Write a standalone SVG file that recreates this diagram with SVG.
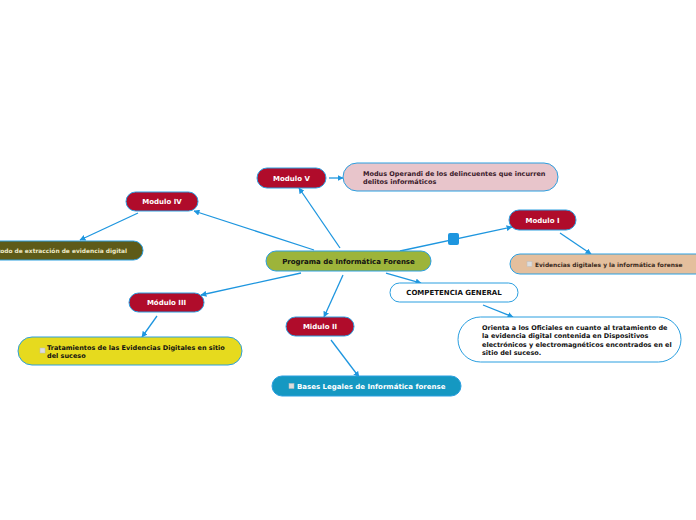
<svg xmlns="http://www.w3.org/2000/svg" width="696" height="520" viewBox="0 0 696 520">
<defs>
<marker id="ah" viewBox="0 0 10 10" refX="9" refY="5" markerWidth="6" markerHeight="6" markerUnits="userSpaceOnUse" orient="auto">
<path d="M0,0 L10,5 L0,10 z" fill="#1e96df"/>
</marker>
<style>
.c{stroke:#1e96df;stroke-width:1.3;fill:none;marker-end:url(#ah)}
.n{stroke:#2b9fe0;stroke-width:1}
.t{font-family:"DejaVu Sans",Verdana,sans-serif;font-weight:bold;font-size:6.5px}
.m{font-size:7px}
.s{font-size:5.9px}
.w{fill:#ffffff}
.k{fill:#111111}
.ic{fill:#dddddd;stroke:#bbbbbb;stroke-width:0.5}
</style>
</defs>
<rect width="696" height="520" fill="#ffffff"/>
<g id="connectors">
<line class="c" x1="340" y1="248" x2="299" y2="188"/>
<line class="c" x1="329" y1="178" x2="343" y2="178"/>
<line class="c" x1="314" y1="250" x2="194" y2="211"/>
<line class="c" x1="138" y1="213" x2="80" y2="240"/>
<line class="c" x1="400" y1="251" x2="512" y2="227"/>
<rect x="448" y="233" width="11" height="12" rx="2" fill="#1e96df"/>
<line class="c" x1="560" y1="233" x2="591" y2="254"/>
<line class="c" x1="301" y1="273" x2="201" y2="295"/>
<line class="c" x1="157" y1="316" x2="142" y2="337"/>
<line class="c" x1="343" y1="275" x2="324" y2="317"/>
<line class="c" x1="331" y1="340" x2="359" y2="377"/>
<line class="c" x1="386" y1="273" x2="421" y2="283"/>
<line class="c" x1="483" y1="305" x2="513" y2="317"/>
</g>
<g id="central">
<rect class="n" x="266" y="251" width="165" height="20" rx="10" fill="#9db43a"/>
<text class="t m k" x="348.5" y="263.5" text-anchor="middle">Programa de Informática Forense</text>
</g>
<g id="modulo5">
<rect class="n" x="257" y="168" width="69" height="20" rx="10" fill="#b00c2b"/>
<text class="t m w" x="291.5" y="180.5" text-anchor="middle">Modulo V</text>
</g>
<g id="modus">
<rect class="n" x="343" y="163" width="215" height="28" rx="14" fill="#e8c5cb"/>
<text class="t" fill="#3a1a2a" x="363" y="176">Modus Operandi de los delincuentes que incurren</text>
<text class="t" fill="#3a1a2a" x="363" y="184">delitos informáticos</text>
</g>
<g id="modulo4">
<rect class="n" x="126" y="192" width="72" height="19" rx="9.5" fill="#b00c2b"/>
<text class="t m w" x="162" y="204" text-anchor="middle">Modulo IV</text>
</g>
<g id="metodo">
<rect class="n" x="-40" y="241" width="183" height="19" rx="9.5" fill="#5e5b18"/>
<text class="t s" fill="#eeeac8" x="127" y="253" text-anchor="end">Método de extracción de evidencia digital</text>
</g>
<g id="modulo1">
<rect class="n" x="509" y="210" width="67" height="20" rx="10" fill="#b00c2b"/>
<text class="t m w" x="542.5" y="222.5" text-anchor="middle">Modulo I</text>
</g>
<g id="evidencias">
<rect class="n" x="510" y="254" width="200" height="20" rx="10" fill="#e4bf9d"/>
<rect class="ic" x="527" y="261.5" width="5" height="5"/>
<text class="t s" fill="#3a2a20" x="535" y="266.5">Evidencias digitales y la informática forense</text>
</g>
<g id="modulo3">
<rect class="n" x="129" y="293" width="75" height="19" rx="9.5" fill="#b00c2b"/>
<text class="t m w" x="166.5" y="305" text-anchor="middle">Módulo III</text>
</g>
<g id="tratamientos">
<rect class="n" x="18" y="337" width="224" height="28" rx="14" fill="#e6da1e"/>
<rect class="ic" x="40" y="348" width="5" height="5"/>
<text class="t k" x="47" y="350">Tratamientos de las Evidencias Digitales en sitio</text>
<text class="t k" x="47" y="358">del suceso</text>
</g>
<g id="modulo2">
<rect class="n" x="286" y="317" width="68" height="19" rx="9.5" fill="#b00c2b"/>
<text class="t m w" x="320" y="329" text-anchor="middle">Midulo II</text>
</g>
<g id="bases">
<rect class="n" x="272" y="376" width="189" height="20" rx="10" fill="#1598c2"/>
<rect class="ic" x="289" y="383.5" width="5" height="5"/>
<text class="t m w" x="297" y="388.5">Bases Legales de Informática forense</text>
</g>
<g id="competencia">
<rect class="n" x="390" y="283" width="128" height="19" rx="9.5" fill="#ffffff"/>
<text class="t m k" x="454" y="295" text-anchor="middle">COMPETENCIA GENERAL</text>
</g>
<g id="orienta">
<rect class="n" x="458" y="317" width="223" height="45" rx="22.5" fill="#ffffff"/>
<text class="t k" x="482" y="329.5">Orienta a los Oficiales en cuanto al tratamiento de</text>
<text class="t k" x="482" y="338">la evidencia digital contenida en Dispositivos</text>
<text class="t k" x="482" y="346.5">electrónicos y electromagnéticos encontrados en el</text>
<text class="t k" x="482" y="355">sitio del suceso.</text>
</g>
</svg>
